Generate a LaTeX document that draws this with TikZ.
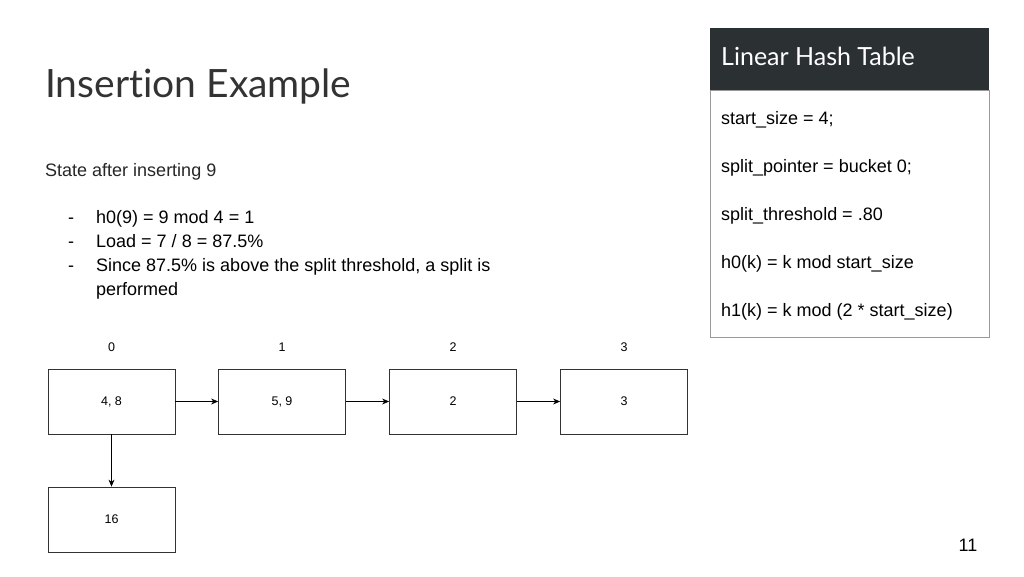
\documentclass[tikz,border=0pt]{standalone}
\usepackage{fontspec}
\setmainfont{Liberation Sans}
\newfontfamily\titlefont[Ligatures={NoCommon,NoRare,NoContextual}]{Lato}
\definecolor{hdr}{HTML}{2B3032}
\usetikzlibrary{arrows.meta}
\begin{document}
\begin{tikzpicture}[x=1pt,y=-1pt,
  bucket/.style={draw=black!80,line width=0.8pt,minimum width=127pt,minimum height=65pt,font=\fontsize{12.5}{13}\selectfont,text height=9pt,text depth=2pt},
  idx/.style={font=\fontsize{12.5}{13}\selectfont,text height=9pt,text depth=2pt},
  arr/.style={-{Stealth[length=7pt,width=6pt]},line width=0.7pt},
  txt/.style={anchor=base west,font=\fontsize{18}{21}\selectfont,inner sep=0pt}]
\useasboundingbox (0,0) rectangle (1024,576);
\node[anchor=base west,inner sep=0pt,font=\titlefont\fontsize{39}{44}\selectfont,text=black!80] (title) at (45,97) {Insertion Example};
\node[txt,text=black!85] (state) at (45,176) {State after inserting 9};
\node[txt] (d1) at (68,223) {-};
\node[txt] (l1) at (96,223) {h0(9) = 9 mod 4 = 1};
\node[txt] (d2) at (68,247) {-};
\node[txt] (l2) at (96,247) {Load = 7 / 8 = 87.5\%};
\node[txt] (d3) at (68,271) {-};
\node[txt] (l3) at (96,271) {Since 87.5\% is above the split threshold, a split is};
\node[txt] (l4) at (96,295) {performed};
% table
\fill[fill=hdr] (710,28) rectangle (989,90);
\node[anchor=base west,inner sep=0pt,text=white,font=\titlefont\fontsize{25}{28}\selectfont] (th) at (721,65) {Linear Hash Table};
\draw[black!40,line width=0.8pt] (710,90) rectangle (989,337);
\node[txt] (t1) at (721,124) {start\_size = 4;};
\node[txt] (t2) at (721,172) {split\_pointer = bucket 0;};
\node[txt] (t3) at (721,220) {split\_threshold = .80};
\node[txt] (t4) at (721,268) {h0(k) = k mod start\_size};
\node[txt] (t5) at (721,316) {h1(k) = k mod (2 * start\_size)};
% buckets
\node[bucket] (b0) at (111.5,401.5) {4, 8};
\node[bucket] (b1) at (282,401.5) {5, 9};
\node[bucket] (b2) at (453,401.5) {2};
\node[bucket] (b3) at (624,401.5) {3};
\node[bucket] (b4) at (111.5,519.5) {16};
\node[idx] (i0) at (111.5,348) {0};
\node[idx] (i1) at (282,348) {1};
\node[idx] (i2) at (453,348) {2};
\node[idx] (i3) at (624,348) {3};
\draw[arr] (b0) -- (b1);
\draw[arr] (b1) -- (b2);
\draw[arr] (b2) -- (b3);
\draw[arr] (b0) -- (b4);
\node[font=\fontsize{18}{20}\selectfont] (pg) at (968,545) {11};
\end{tikzpicture}
\end{document}
